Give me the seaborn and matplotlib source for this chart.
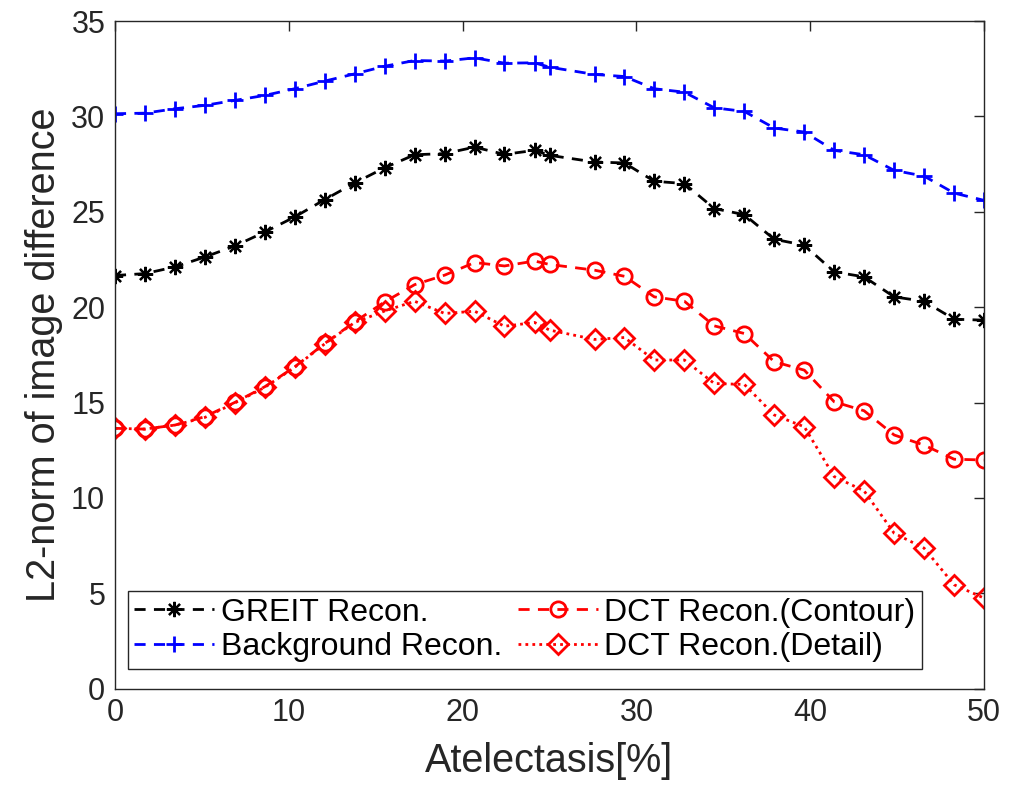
import matplotlib
matplotlib.use("Agg")
import matplotlib.pyplot as plt
import seaborn as sns

# Data
atelectasis = [0, 1.72, 3.45, 5.17, 6.90, 8.62, 10.34, 12.07, 13.79, 15.52,
               17.24, 18.97, 20.69, 22.41, 24.14, 25.0, 27.59, 29.31, 31.03, 32.76,
               34.48, 36.21, 37.93, 39.66, 41.38, 43.10, 44.83, 46.55, 48.28, 50.0]

greit = [21.66, 21.76, 22.11, 22.63, 23.21, 23.94, 24.73, 25.64, 26.51, 27.31,
         27.99, 28.05, 28.39, 28.01, 28.22, 27.96, 27.61, 27.56, 26.60, 26.48,
         25.17, 24.85, 23.56, 23.25, 21.85, 21.59, 20.54, 20.31, 19.37, 19.32]

background = [30.14, 30.17, 30.40, 30.58, 30.84, 31.10, 31.45, 31.85, 32.23, 32.63,
              32.93, 32.90, 33.07, 32.79, 32.81, 32.58, 32.20, 32.09, 31.45, 31.27,
              30.45, 30.26, 29.39, 29.18, 28.22, 27.99, 27.17, 26.87, 25.98, 25.60]

dct_contour = [13.65, 13.61, 13.82, 14.26, 15.01, 15.83, 16.87, 18.10, 19.23, 20.28,
               21.18, 21.68, 22.34, 22.16, 22.42, 22.24, 21.94, 21.62, 20.54, 20.31,
               19.02, 18.62, 17.14, 16.70, 15.04, 14.57, 13.30, 12.77, 12.03, 11.99]

dct_detail = [13.65, 13.61, 13.82, 14.22, 14.98, 15.80, 16.85, 18.08, 19.20, 19.80,
              20.31, 19.67, 19.79, 19.00, 19.20, 18.80, 18.31, 18.41, 17.23, 17.23,
              16.00, 15.95, 14.35, 13.73, 11.12, 10.37, 8.15, 7.37, 5.45, 4.75]

sns.set_style("white")
plt.rcParams["font.family"] = ["Liberation Sans", "DejaVu Sans"]

fig = plt.figure(figsize=(10.21, 7.99), dpi=100)
ax = fig.add_axes([0.1126, 0.138, 0.8512, 0.8357])

dash = (4, 3)
lw = 2
sns.lineplot(x=atelectasis, y=greit, ax=ax, color="black", marker=(8, 2, 0), markersize=11,
             markeredgecolor="black", markeredgewidth=1.6, lw=lw, label="GREIT Recon.")
sns.lineplot(x=atelectasis, y=background, ax=ax, color="blue", marker="+", markersize=12,
             markeredgecolor="blue", markeredgewidth=2, lw=lw, label="Background Recon.")
sns.lineplot(x=atelectasis, y=dct_contour, ax=ax, color="red", marker="o", markersize=11,
             markerfacecolor="none", markeredgecolor="red", markeredgewidth=2,
             lw=lw, label="DCT Recon.(Contour)")
sns.lineplot(x=atelectasis, y=dct_detail, ax=ax, color="red", marker="D", markersize=10,
             markerfacecolor="none", markeredgecolor="red", markeredgewidth=2,
             lw=lw, label="DCT Recon.(Detail)")
lines = ax.get_lines()
for ln in lines[:3]:
    ln.set_linestyle((0, dash))
lines[3].set_linestyle((0, (1, 1.5)))

ax.set_xlim(0, 50)
ax.set_ylim(0, 35)
ax.set_xticks(range(0, 51, 10))
ax.set_yticks(range(0, 36, 5))
ax.tick_params(direction="in", length=7, width=1, labelsize=22, colors="#262626",
               top=True, right=True, pad=7)
for sp in ax.spines.values():
    sp.set_color("#262626")
    sp.set_linewidth(1)

ax.set_xlabel("Atelectasis[%]", fontsize=28.5, color="#262626", labelpad=10)
ax.set_ylabel("L2-norm of image difference", fontsize=28.5, color="#262626", labelpad=6)

leg = ax.legend(ncol=2, loc="lower left", bbox_to_anchor=(0.015, 0.03), fontsize=23,
                frameon=True, fancybox=False, edgecolor="#262626", framealpha=1,
                handlelength=2.5, handletextpad=0.2, columnspacing=0.5,
                borderpad=0.2, labelspacing=0.15, borderaxespad=0, labelcolor="black")
leg.get_frame().set_linewidth(1)

fig.savefig("out.png", dpi=100)
